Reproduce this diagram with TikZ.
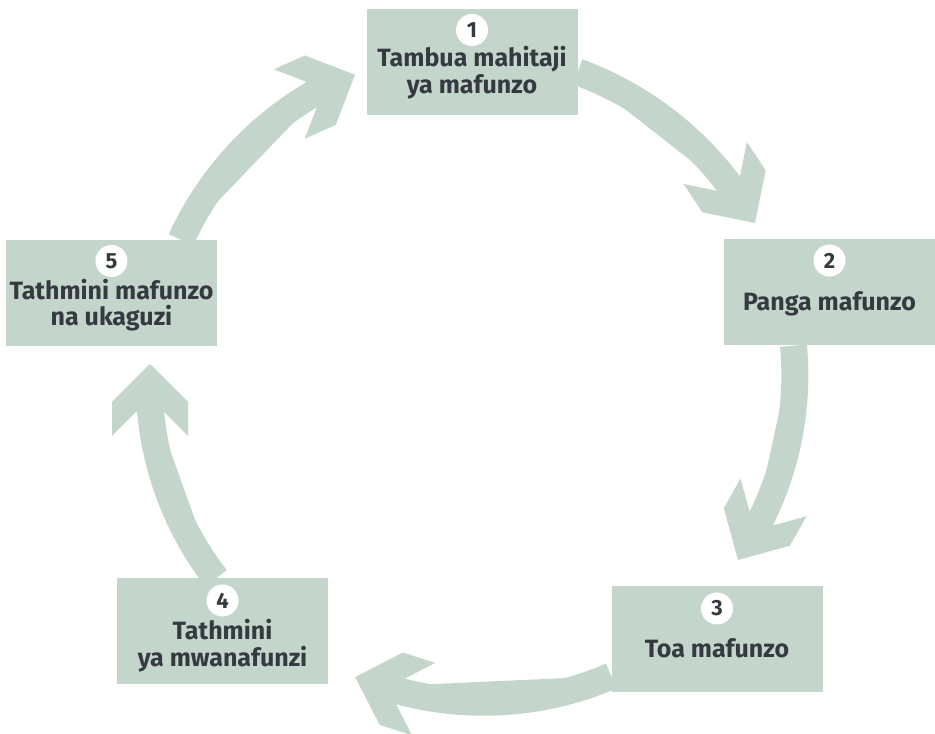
\documentclass[tikz,border=0pt]{standalone}
\usepackage{fontspec}
\setmainfont{Fira Sans}
\usepackage{tikz}
\usetikzlibrary{arrows.meta,positioning}
\definecolor{sage}{RGB}{196,214,203}
\definecolor{ink}{RGB}{52,58,64}
\pgfdeclarearrow{
  name = Chevron,
  setup code = {
    \pgfarrowssettipend{0pt}
    \pgfarrowssetlineend{-30pt}
    \pgfarrowssetvisualbackend{-48pt}
    \pgfarrowssetbackend{-72pt}
  },
  drawing code = {
    \pgfpathmoveto{\pgfqpoint{0pt}{0pt}}
    \pgfpathlineto{\pgfqpoint{-38pt}{38pt}}
    \pgfpathlineto{\pgfqpoint{-72pt}{38pt}}
    \pgfpathlineto{\pgfqpoint{-48pt}{14pt}}
    \pgfpathlineto{\pgfqpoint{-48pt}{-14pt}}
    \pgfpathlineto{\pgfqpoint{-72pt}{-38pt}}
    \pgfpathlineto{\pgfqpoint{-38pt}{-38pt}}
    \pgfpathclose
    \pgfusepathqfill
  }
}
\tikzstyle{stepbox} = [fill=sage, minimum width=211pt, minimum height=106pt, inner sep=0pt]
\tikzstyle{num} = [circle, fill=white, minimum size=32pt, inner sep=0pt, text=ink, font=\bfseries\fontsize{22}{22}\selectfont]
\tikzstyle{lbl} = [align=center, anchor=base, text=ink, inner sep=0pt, font=\bfseries\fontsize{25}{26.5}\selectfont]
\tikzstyle{cyc} = [draw=sage, fill=sage, line width=27pt, looseness=0.87, -Chevron]

\begin{document}
\begin{tikzpicture}[x=1pt, y=1pt]
    \useasboundingbox (0,0) rectangle (935,734);
    \node[stepbox] (s1) at (472,672) {};
    \node[stepbox] (s2) at (829.5,441.5) {};
    \node[stepbox] (s3) at (717,94.5) {};
    \node[stepbox] (s4) at (222.5,102.5) {};
    \node[stepbox] (s5) at (111.5,441) {};
    \node[num, below=5pt of s1.north] (n1) {1};
    \node[num, below=5pt of s2.north] (n2) {2};
    \node[num, below=6pt of s3.north] (n3) {3};
    \node[num, below=6pt of s4.north] (n4) {4};
    \node[num, below=5pt of s5.north] (n5) {5};
    \node[lbl] (t1) at ([yshift=-84.5pt]s1.north) {Tambua mahitaji\\ya mafunzo};
    \node[lbl] (t2) at ([yshift=-71pt]s2.north) {Panga mafunzo};
    \node[lbl] (t3) at ([yshift=-71pt]s3.north) {Toa mafunzo};
    \node[lbl] (t4) at ([yshift=-88pt]s4.north) {Tathmini\\ya mwanafunzi};
    \node[lbl] (t5) at ([yshift=-86pt]s5.north) {Tathmini mafunzo\\na ukaguzi};
    \coordinate (p1) at (317.1,642.4);
    \coordinate (e1) at (355,659.3);
    \coordinate (p2) at (732.2,545.4);
    \coordinate (e2) at (755,511);
    \coordinate (p3) at (757.9,209);
    \coordinate (e3) at (738,174);
    \coordinate (p4) at (392.8,44.8);
    \coordinate (e4) at (355.1,56.9);
    \coordinate (p5) at (150,329.9);
    \coordinate (e5) at (150,370.1);
    \draw[cyc] ([xshift=69.5pt]s5.north) to[bend left=18] (p1) -- (e1);
    \draw[cyc] ([yshift=-10pt]s1.east) to[bend left=17] (p2) -- (e2);
    \draw[cyc] ([xshift=-36pt]s2.south) to[bend left=16.5] (p3) -- (e3);
    \draw[cyc] ([yshift=-36.5pt]s3.west) to[bend left=20] (p4) -- (e4);
    \draw[cyc] ([xshift=-6.5pt]s4.north) to[bend left=17] (p5) -- (e5);
\end{tikzpicture}
\end{document}
